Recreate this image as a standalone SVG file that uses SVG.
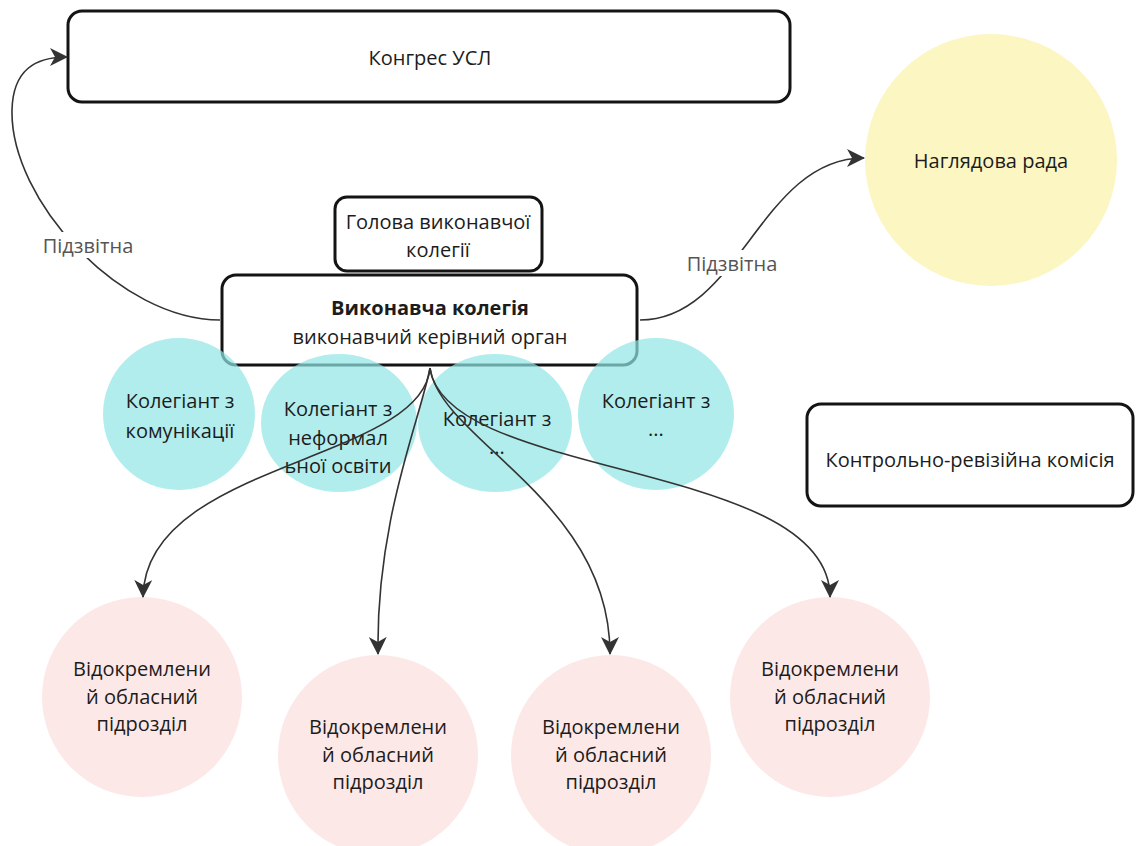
<svg xmlns="http://www.w3.org/2000/svg" width="1138" height="846" viewBox="0 0 1138 846">
  <style>
    .box { fill: #ffffff; stroke: #141414; stroke-width: 3; }
    .txt { font-family: "Open Sans", "Noto Sans", "DejaVu Sans", sans-serif; font-size: 20px; fill: #1c1c1c; text-anchor: middle; dominant-baseline: central; }
    .bold { font-weight: 700; }
    .lbl { font-family: "Open Sans", "Noto Sans", "DejaVu Sans", sans-serif; font-size: 20px; fill: #555555; text-anchor: middle; dominant-baseline: central; }
    .member { fill: #92e5e5; opacity: 0.7; }
    .branch { fill: #fde8e8; }
    .board { fill: #fcf6c2; }
    .link { fill: none; stroke: #333333; stroke-width: 1.6; marker-end: url(#arrow); }
  </style>
  <defs>
    <marker id="arrow" viewBox="0 0 18 18" refX="17" refY="9" markerWidth="18" markerHeight="18" markerUnits="userSpaceOnUse" orient="auto">
      <path d="M0,0 L18,9 L0,18 L5,9 Z" fill="#333333"/>
    </marker>
  </defs>

  <rect width="1138" height="846" fill="#ffffff"/>

  <!-- Congress -->
  <g id="congress">
    <rect class="box" x="68" y="11" width="722" height="91" rx="14"/>
    <text class="txt" x="430" y="57">Конгрес УСЛ</text>
  </g>

  <!-- Supervisory board -->
  <g id="supervisory-board">
    <circle class="board" cx="991" cy="160" r="126"/>
    <text class="txt" x="991" y="160">Наглядова рада</text>
  </g>

  <!-- Head of the executive board -->
  <g id="head">
    <rect class="box" x="335" y="197" width="207" height="74" rx="12"/>
    <text class="txt" x="438" y="221">Голова виконавчої</text>
    <text class="txt" x="438" y="249">колегії</text>
  </g>

  <!-- Executive board -->
  <g id="executive-board">
    <rect class="box" x="222" y="275" width="415" height="90" rx="14"/>
    <text class="txt bold" x="430" y="307">Виконавча колегія</text>
    <text class="txt" x="430" y="336">виконавчий керівний орган</text>
  </g>

  <!-- Control and audit commission -->
  <g id="audit-commission">
    <rect class="box" x="807" y="404" width="326" height="102" rx="14"/>
    <text class="txt" x="970" y="459">Контрольно-ревізійна комісія</text>
  </g>

  <!-- Board members -->
  <g id="member-communication">
    <ellipse class="member" cx="179" cy="414" rx="76" ry="76"/>
    <text class="txt" x="180" y="400">Колегіант з</text>
    <text class="txt" x="180" y="430">комунікації</text>
  </g>
  <g id="member-education">
    <ellipse class="member" cx="339" cy="423" rx="78" ry="69"/>
    <text class="txt" x="338" y="408">Колегіант з</text>
    <text class="txt" x="338" y="437">неформал</text>
    <text class="txt" x="338" y="465">ьної освіти</text>
  </g>
  <g id="member-3">
    <ellipse class="member" cx="495" cy="423" rx="77" ry="69"/>
    <text class="txt" x="497" y="418">Колегіант з</text>
    <text class="txt" x="497" y="446">...</text>
  </g>
  <g id="member-4">
    <ellipse class="member" cx="656" cy="414" rx="78" ry="76"/>
    <text class="txt" x="656" y="400">Колегіант з</text>
    <text class="txt" x="656" y="428">...</text>
  </g>

  <!-- Regional branches -->
  <g id="branch-1">
    <circle class="branch" cx="142" cy="697" r="100"/>
    <text class="txt" x="142" y="668">Відокремлени</text>
    <text class="txt" x="142" y="696">й обласний</text>
    <text class="txt" x="142" y="723">підрозділ</text>
  </g>
  <g id="branch-2">
    <circle class="branch" cx="378" cy="755" r="100"/>
    <text class="txt" x="378" y="726">Відокремлени</text>
    <text class="txt" x="378" y="754">й обласний</text>
    <text class="txt" x="378" y="781">підрозділ</text>
  </g>
  <g id="branch-3">
    <circle class="branch" cx="611" cy="755" r="100"/>
    <text class="txt" x="611" y="726">Відокремлени</text>
    <text class="txt" x="611" y="754">й обласний</text>
    <text class="txt" x="611" y="781">підрозділ</text>
  </g>
  <g id="branch-4">
    <circle class="branch" cx="830" cy="697" r="100"/>
    <text class="txt" x="830" y="668">Відокремлени</text>
    <text class="txt" x="830" y="696">й обласний</text>
    <text class="txt" x="830" y="723">підрозділ</text>
  </g>

  <!-- Connectors -->
  <g id="connectors">
    <path class="link" d="M220 320 C120 320, 10 200, 12 110 C13 70, 35 57, 67 57"/>
    <path class="link" d="M640 320 C740 320, 760 158, 864 158"/>
    <path class="link" d="M430 368 C422 462, 145 462, 143 597"/>
    <path class="link" d="M430 368 C420 420, 376 520, 378 654"/>
    <path class="link" d="M430 368 C440 440, 610 500, 610 654"/>
    <path class="link" d="M430 368 C445 480, 830 460, 830 597"/>
    <g id="label-congress">
      <rect x="38" y="232" width="100" height="26" fill="#ffffff"/>
      <text class="lbl" x="88" y="245">Підзвітна</text>
    </g>
    <g id="label-board">
      <rect x="682" y="250" width="100" height="26" fill="#ffffff"/>
      <text class="lbl" x="732" y="263">Підзвітна</text>
    </g>
  </g>
</svg>
